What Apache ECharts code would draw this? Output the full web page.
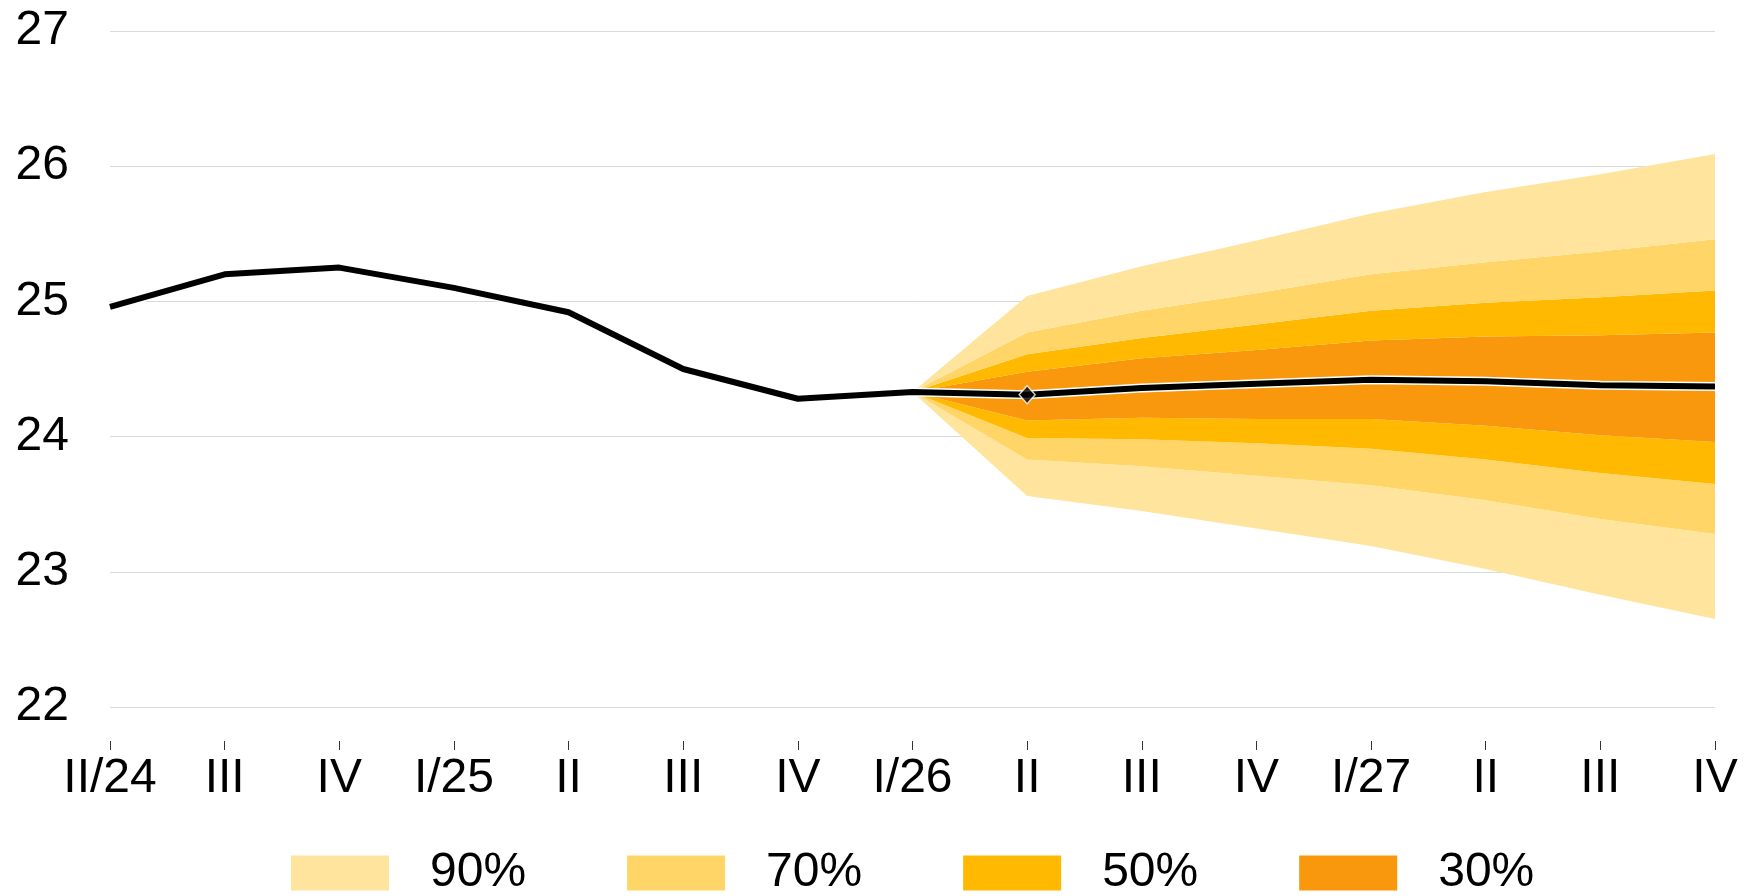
<!DOCTYPE html>
<html>
<head>
<meta charset="utf-8">
<script src="https://cdn.jsdelivr.net/npm/echarts@6/dist/echarts.min.js"></script>
<style>
  html, body { margin: 0; padding: 0; background: #fff; }
  #Mycharts { width: 1744px; height: 896px; }
</style>
</head>
<body>
<div id="Mycharts"></div>
<script>
// quarters on the x axis
const categories = ['II/24', 'III', 'IV', 'I/25', 'II', 'III', 'IV', 'I/26', 'II', 'III', 'IV', 'I/27', 'II', 'III', 'IV']
const yTicks = [22, 27, 1] // min, max, step

// central path (history up to I/26, then the projection)
const central = [24.96, 25.20, 25.25, 25.10, 24.92, 24.50, 24.28, 24.33, 24.31, 24.36, 24.39, 24.42, 24.41, 24.38, 24.37]

// fan band edges, from I/26 onward ('-' = no value)
const lower90 = ['-', '-', '-', '-', '-', '-', '-', 24.33, 23.56, 23.45, 23.32, 23.19, 23.02, 22.83, 22.65]
const lower70 = ['-', '-', '-', '-', '-', '-', '-', 24.33, 23.83, 23.78, 23.71, 23.64, 23.53, 23.39, 23.28]
const lower50 = ['-', '-', '-', '-', '-', '-', '-', 24.33, 23.99, 23.98, 23.95, 23.91, 23.83, 23.73, 23.65]
const lower30 = ['-', '-', '-', '-', '-', '-', '-', 24.33, 24.12, 24.14, 24.13, 24.13, 24.08, 24.01, 23.96]
const upper30 = ['-', '-', '-', '-', '-', '-', '-', 24.33, 24.48, 24.58, 24.64, 24.71, 24.74, 24.75, 24.77]
const upper50 = ['-', '-', '-', '-', '-', '-', '-', 24.33, 24.61, 24.73, 24.83, 24.93, 24.99, 25.03, 25.08]
const upper70 = ['-', '-', '-', '-', '-', '-', '-', 24.33, 24.77, 24.93, 25.06, 25.20, 25.29, 25.37, 25.46]
const upper90 = ['-', '-', '-', '-', '-', '-', '-', 24.33, 25.04, 25.26, 25.45, 25.65, 25.81, 25.94, 26.09]

const bandNames = ['90%', '70%', '50%', '30%']
const colors = { '90%': '#fee49c', '70%': '#fed566', '50%': '#feb900', '30%': '#f9980c' }

// difference between two edges, for the stacked bands
function diff (top, bottom) {
  return top.map((v, i) => (v === '-' || bottom[i] === '-') ? '-' : +(v - bottom[i]).toFixed(3))
}

function band (name, data) {
  return {
    name: name,
    type: 'line',
    stack: 'fan',
    data: data,
    symbol: 'none',
    lineStyle: { width: 0 },
    areaStyle: { color: colors[name], opacity: 1 },
    itemStyle: { color: colors[name] },
    z: 1
  }
}

const diamond = central.map((v, i) => i === 8 ? v : '-')

const font = '"Liberation Sans", Arial, sans-serif'

let Mycharts = echarts.init(document.getElementById('Mycharts'))
Mycharts.setOption({
  animation: false,
  grid: {
    left: 110,
    right: 29,
    top: 31,
    bottom: 189,
    containLabel: false
  },
  legend: {
    data: bandNames,
    left: 291,
    top: 849,
    padding: 0,
    icon: 'rect',
    itemWidth: 98,
    itemHeight: 35,
    itemGap: 101,
    selectedMode: false,
    textStyle: {
      fontFamily: font,
      fontSize: 48,
      color: '#000',
      padding: [0, 0, 0, 36]
    }
  },
  xAxis: {
    type: 'category',
    boundaryGap: false,
    data: categories,
    offset: 34,
    axisLine: { show: false },
    axisTick: {
      show: true,
      length: 9,
      lineStyle: { color: '#333', width: 1 }
    },
    axisLabel: {
      margin: 14,
      interval: 0,
      fontFamily: font,
      fontSize: 48,
      color: '#000'
    },
    splitLine: { show: false }
  },
  yAxis: {
    type: 'value',
    min: yTicks[0],
    max: yTicks[1],
    interval: yTicks[2],
    axisLine: { show: false },
    axisTick: { show: false },
    axisLabel: {
      margin: 41,
      fontFamily: font,
      fontSize: 48,
      color: '#000'
    },
    splitLine: { lineStyle: { color: '#d9d9d9', width: 1 } }
  },
  series: [
    {
      name: 'base',
      type: 'line',
      stack: 'fan',
      data: lower90,
      symbol: 'none',
      lineStyle: { width: 0 },
      z: 1
    },
    band('90%', diff(lower70, lower90)),
    band('70%', diff(lower50, lower70)),
    band('50%', diff(lower30, lower50)),
    band('30%', diff(upper30, lower30)),
    band('50%', diff(upper50, upper30)),
    band('70%', diff(upper70, upper50)),
    band('90%', diff(upper90, upper70)),
    {
      name: 'outline',
      type: 'line',
      data: central,
      symbol: 'none',
      lineStyle: { color: '#fff', width: 9 },
      z: 3
    },
    {
      name: 'central',
      type: 'line',
      data: central,
      symbol: 'none',
      lineStyle: { color: '#000', width: 6 },
      z: 4
    },
    {
      name: 'marker',
      type: 'scatter',
      data: diamond,
      symbol: 'diamond',
      symbolSize: [16, 18],
      itemStyle: { color: '#000', borderColor: '#fff', borderWidth: 1.5 },
      z: 5
    }
  ]
})
</script>
</body>
</html>
